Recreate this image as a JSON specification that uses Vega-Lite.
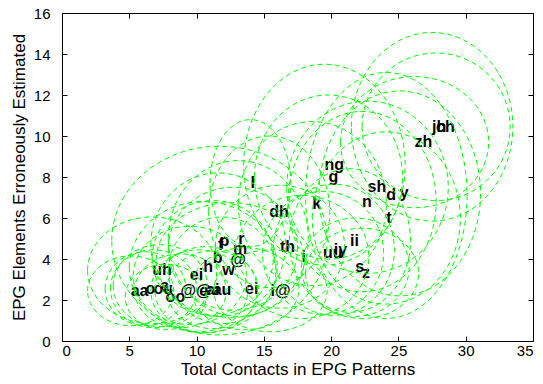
{
  "$schema": "https://vega.github.io/schema/vega-lite/v6.json",
  "width": 471,
  "height": 328,
  "autosize": "none",
  "padding": {"left": 62, "top": 13, "right": 10, "bottom": 43},
  "background": "white",
  "config": {
    "view": {"stroke": "#000", "strokeWidth": 1},
    "axis": {
      "domain": false, "grid": false, "tickColor": "#000", "tickSize": -5, "tickWidth": 1,
      "labelFont": "Liberation Sans", "labelFontSize": 15, "labelColor": "#000",
      "titleFont": "Liberation Sans", "titleFontSize": 17, "titleFontWeight": "normal", "titleColor": "#000"
    }
  },
  "data": {"values": [
    {"id": "aa", "label": "aa", "x": 5.1, "y": 2.45, "rx": 3.2, "ry": 1.7},
    {"id": "o", "label": "o", "x": 6.2, "y": 2.55, "rx": 3.0, "ry": 1.8},
    {"id": "ou", "label": "ou", "x": 6.8, "y": 2.55, "rx": 3.2, "ry": 1.9},
    {"id": "a", "label": "a", "x": 7.3, "y": 2.7, "rx": 3.5, "ry": 2.0},
    {"id": "oo", "label": "oo", "x": 7.7, "y": 2.15, "rx": 3.0, "ry": 1.6},
    {"id": "@@", "label": "@@", "x": 8.8, "y": 2.45, "rx": 3.4, "ry": 1.8},
    {"id": "e", "label": "e", "x": 10.2, "y": 2.45, "rx": 3.6, "ry": 2.0},
    {"id": "ai", "label": "ai", "x": 10.7, "y": 2.5, "rx": 3.8, "ry": 2.1},
    {"id": "au", "label": "au", "x": 11.2, "y": 2.5, "rx": 3.4, "ry": 1.9},
    {"id": "uh", "label": "uh", "x": 6.7, "y": 3.45, "rx": 4.8, "ry": 2.6},
    {"id": "ei", "label": "ei", "x": 9.5, "y": 3.2, "rx": 4.2, "ry": 2.4},
    {"id": "h", "label": "h", "x": 10.5, "y": 3.6, "rx": 5.5, "ry": 3.2},
    {"id": "b", "label": "b", "x": 11.2, "y": 4.05, "rx": 4.5, "ry": 2.8},
    {"id": "w", "label": "w", "x": 11.9, "y": 3.45, "rx": 4.0, "ry": 2.6},
    {"id": "p", "label": "p", "x": 11.7, "y": 4.9, "rx": 8.0, "ry": 4.6},
    {"id": "f", "label": "f", "x": 11.6, "y": 4.7, "rx": 5.0, "ry": 3.5},
    {"id": "r", "label": "r", "x": 13.1, "y": 5.0, "rx": 5.2, "ry": 3.8},
    {"id": "m", "label": "m", "x": 12.7, "y": 4.5, "rx": 4.8, "ry": 3.0},
    {"id": "@", "label": "@", "x": 12.5, "y": 3.95, "rx": 5.5, "ry": 2.8},
    {"id": "l", "label": "l", "x": 14.0, "y": 7.7, "rx": 3.0, "ry": 3.1},
    {"id": "dh", "label": "dh", "x": 15.4, "y": 6.3, "rx": 4.5, "ry": 3.7},
    {"id": "th", "label": "th", "x": 16.2, "y": 4.6, "rx": 4.8, "ry": 3.0},
    {"id": "i", "label": "i", "x": 17.8, "y": 4.1, "rx": 5.0, "ry": 3.0},
    {"id": "ei2", "label": "ei", "x": 13.6, "y": 2.55, "rx": 4.0, "ry": 2.0},
    {"id": "i@", "label": "i@", "x": 15.5, "y": 2.45, "rx": 4.2, "ry": 2.0},
    {"id": "k", "label": "k", "x": 18.6, "y": 6.7, "rx": 5.5, "ry": 4.0},
    {"id": "ng", "label": "ng", "x": 19.5, "y": 8.6, "rx": 6.0, "ry": 4.9},
    {"id": "g", "label": "g", "x": 19.8, "y": 8.0, "rx": 5.5, "ry": 4.0},
    {"id": "sh", "label": "sh", "x": 22.7, "y": 7.5, "rx": 6.0, "ry": 4.2},
    {"id": "n", "label": "n", "x": 22.3, "y": 6.8, "rx": 5.5, "ry": 4.4},
    {"id": "d", "label": "d", "x": 24.1, "y": 7.1, "rx": 6.0, "ry": 6.0},
    {"id": "y", "label": "y", "x": 25.1, "y": 7.2, "rx": 6.0, "ry": 5.0},
    {"id": "t", "label": "t", "x": 24.1, "y": 6.0, "rx": 5.5, "ry": 4.2},
    {"id": "ii", "label": "ii", "x": 21.4, "y": 4.9, "rx": 4.5, "ry": 3.5},
    {"id": "uu", "label": "uu", "x": 19.4, "y": 4.3, "rx": 4.5, "ry": 3.0},
    {"id": "iy", "label": "iy", "x": 20.2, "y": 4.45, "rx": 4.5, "ry": 3.2},
    {"id": "s", "label": "s", "x": 21.8, "y": 3.6, "rx": 4.0, "ry": 2.4},
    {"id": "z", "label": "z", "x": 22.3, "y": 3.3, "rx": 4.2, "ry": 2.2},
    {"id": "zh", "label": "zh", "x": 26.2, "y": 9.7, "rx": 5.5, "ry": 3.2},
    {"id": "jh", "label": "jh", "x": 27.5, "y": 10.45, "rx": 6.0, "ry": 4.6},
    {"id": "ch", "label": "ch", "x": 27.8, "y": 10.45, "rx": 5.5, "ry": 3.6}
  ]},
  "resolve": {"scale": {"x": "independent", "y": "independent"}},
  "layer": [
    {
      "mark": {"type": "text", "align": "left", "baseline": "middle", "font": "Liberation Sans", "fontWeight": "bold", "fontSize": 16, "color": "#000"},
      "encoding": {
        "x": {"field": "x", "type": "quantitative", "scale": {"domain": [0, 35], "nice": false, "zero": false},
              "axis": {"orient": "top", "values": [0, 5, 10, 15, 20, 25, 30, 35], "labels": false, "title": null}},
        "y": {"field": "y", "type": "quantitative", "scale": {"domain": [0, 16], "nice": false, "zero": false},
              "axis": {"orient": "right", "values": [0, 2, 4, 6, 8, 10, 12, 14, 16], "labels": false, "title": null}},
        "text": {"field": "label"}
      }
    },
    {
      "mark": {"type": "point", "filled": false, "color": "#00ff00", "strokeWidth": 1, "strokeDash": [5, 3.5], "opacity": 1},
      "encoding": {
        "x": {"field": "x", "type": "quantitative", "scale": {"domain": [0, 35], "nice": false, "zero": false},
              "axis": {"orient": "bottom", "values": [0, 5, 10, 15, 20, 25, 30, 35], "labelPadding": 7, "title": "Total Contacts in EPG Patterns", "titlePadding": 3}},
        "y": {"field": "y", "type": "quantitative", "scale": {"domain": [0, 16], "nice": false, "zero": false},
              "axis": {"orient": "left", "values": [0, 2, 4, 6, 8, 10, 12, 14, 16], "labelPadding": 17, "title": "EPG Elements Erroneously Estimated", "titlePadding": 5}},
        "size": {"field": "rx", "type": "quantitative", "scale": {"type": "pow", "exponent": 2, "domain": [0, 10], "range": [0, 72469]}, "legend": null},
        "shape": {"field": "id", "type": "nominal", "legend": null, "scale": {
          "domain": ["aa", "o", "ou", "a", "oo", "@@", "e", "ai", "au", "uh", "ei", "h", "b", "w", "p", "f", "r", "m", "@", "l", "dh", "th", "i", "ei2", "i@", "k", "ng", "g", "sh", "n", "d", "y", "t", "ii", "uu", "iy", "s", "z", "zh", "jh", "ch"],
          "range": [
            "M-1,0A1,0.81,0,1,1,1,0A1,0.81,0,1,1,-1,0Z",
            "M-1,0A1,0.914,0,1,1,1,0A1,0.914,0,1,1,-1,0Z",
            "M-1,0A1,0.904,0,1,1,1,0A1,0.904,0,1,1,-1,0Z",
            "M-1,0A1,0.87,0,1,1,1,0A1,0.87,0,1,1,-1,0Z",
            "M-1,0A1,0.812,0,1,1,1,0A1,0.812,0,1,1,-1,0Z",
            "M-1,0A1,0.806,0,1,1,1,0A1,0.806,0,1,1,-1,0Z",
            "M-1,0A1,0.846,0,1,1,1,0A1,0.846,0,1,1,-1,0Z",
            "M-1,0A1,0.842,0,1,1,1,0A1,0.842,0,1,1,-1,0Z",
            "M-1,0A1,0.851,0,1,1,1,0A1,0.851,0,1,1,-1,0Z",
            "M-1,0A1,0.825,0,1,1,1,0A1,0.825,0,1,1,-1,0Z",
            "M-1,0A1,0.87,0,1,1,1,0A1,0.87,0,1,1,-1,0Z",
            "M-1,0A1,0.886,0,1,1,1,0A1,0.886,0,1,1,-1,0Z",
            "M-1,0A1,0.948,0,1,1,1,0A1,0.948,0,1,1,-1,0Z",
            "M-1,0A1,0.99,0,1,1,1,0A1,0.99,0,1,1,-1,0Z",
            "M-1,0A1,0.876,0,1,1,1,0A1,0.876,0,1,1,-1,0Z",
            "M-1,0A1,1.066,0,1,1,1,0A1,1.066,0,1,1,-1,0Z",
            "M-1,0A1,1.113,0,1,1,1,0A1,1.113,0,1,1,-1,0Z",
            "M-1,0A1,0.952,0,1,1,1,0A1,0.952,0,1,1,-1,0Z",
            "M-1,0A1,0.775,0,1,1,1,0A1,0.775,0,1,1,-1,0Z",
            "M-1,0A1,1.574,0,1,1,1,0A1,1.574,0,1,1,-1,0Z",
            "M-1,0A1,1.252,0,1,1,1,0A1,1.252,0,1,1,-1,0Z",
            "M-1,0A1,0.952,0,1,1,1,0A1,0.952,0,1,1,-1,0Z",
            "M-1,0A1,0.914,0,1,1,1,0A1,0.914,0,1,1,-1,0Z",
            "M-1,0A1,0.762,0,1,1,1,0A1,0.762,0,1,1,-1,0Z",
            "M-1,0A1,0.725,0,1,1,1,0A1,0.725,0,1,1,-1,0Z",
            "M-1,0A1,1.108,0,1,1,1,0A1,1.108,0,1,1,-1,0Z",
            "M-1,0A1,1.244,0,1,1,1,0A1,1.244,0,1,1,-1,0Z",
            "M-1,0A1,1.108,0,1,1,1,0A1,1.108,0,1,1,-1,0Z",
            "M-1,0A1,1.066,0,1,1,1,0A1,1.066,0,1,1,-1,0Z",
            "M-1,0A1,1.218,0,1,1,1,0A1,1.218,0,1,1,-1,0Z",
            "M-1,0A1,1.523,0,1,1,1,0A1,1.523,0,1,1,-1,0Z",
            "M-1,0A1,1.269,0,1,1,1,0A1,1.269,0,1,1,-1,0Z",
            "M-1,0A1,1.163,0,1,1,1,0A1,1.163,0,1,1,-1,0Z",
            "M-1,0A1,1.185,0,1,1,1,0A1,1.185,0,1,1,-1,0Z",
            "M-1,0A1,1.015,0,1,1,1,0A1,1.015,0,1,1,-1,0Z",
            "M-1,0A1,1.083,0,1,1,1,0A1,1.083,0,1,1,-1,0Z",
            "M-1,0A1,0.914,0,1,1,1,0A1,0.914,0,1,1,-1,0Z",
            "M-1,0A1,0.798,0,1,1,1,0A1,0.798,0,1,1,-1,0Z",
            "M-1,0A1,0.886,0,1,1,1,0A1,0.886,0,1,1,-1,0Z",
            "M-1,0A1,1.168,0,1,1,1,0A1,1.168,0,1,1,-1,0Z",
            "M-1,0A1,0.997,0,1,1,1,0A1,0.997,0,1,1,-1,0Z"
          ]}}
      }
    }
  ]
}
